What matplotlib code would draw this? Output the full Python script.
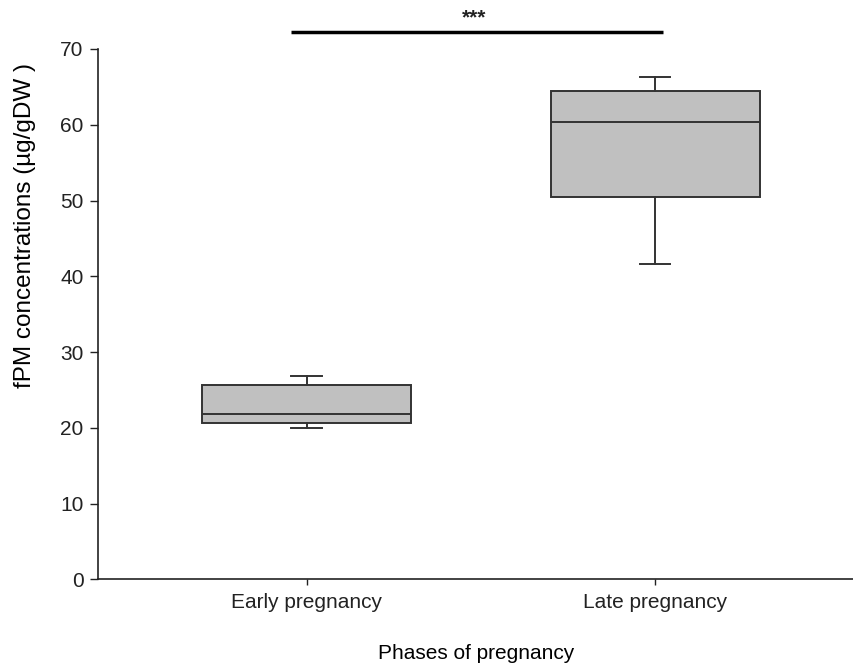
import matplotlib
matplotlib.use("Agg")
import matplotlib.pyplot as plt

categories = ["Early pregnancy", "Late pregnancy"]
whislo = [20.0, 41.6]
q1 = [20.7, 50.5]
med = [21.8, 60.4]
q3 = [25.7, 64.5]
whishi = [26.9, 66.3]
yticks = [0, 10, 20, 30, 40, 50, 60, 70]
sig_label = "***"
sig_y = 72.2

plt.rcParams['font.family'] = ['Liberation Sans', 'DejaVu Sans']

fig = plt.figure(figsize=(8.54, 6.63), dpi=100)
ax = fig.add_axes([0.1151, 0.1262, 0.8849, 0.7999])

stats = []
for i, c in enumerate(categories):
    stats.append(dict(label=c, whislo=whislo[i], q1=q1[i], med=med[i],
                      q3=q3[i], whishi=whishi[i], fliers=[]))

lc = '#333333'
ax.bxp(stats, positions=[1, 2], widths=0.6, patch_artist=True,
       showfliers=False, capwidths=0.087,
       boxprops=dict(facecolor='#c0c0c0', edgecolor=lc, linewidth=1.4),
       medianprops=dict(color=lc, linewidth=1.4),
       whiskerprops=dict(color=lc, linewidth=1.4),
       capprops=dict(color=lc, linewidth=1.4))

ax.set_xlim(0.402, 2.571)
ax.set_ylim(0, 70)
ax.set_yticks(yticks)
ax.set_xticks([1, 2])
ax.set_xticklabels(categories)
for s in ['top', 'right']:
    ax.spines[s].set_visible(False)
for s in ['left', 'bottom']:
    ax.spines[s].set_linewidth(1.2)
    ax.spines[s].set_color('#222222')
ax.tick_params(axis='y', direction='out', length=5.5, width=1.0, labelsize=15, pad=5, colors='#222222')
ax.tick_params(axis='x', direction='out', length=4, width=1.0, labelsize=15, pad=6, colors='#222222')

ax.set_ylabel("fPM concentrations (µg/gDW )", fontsize=17.5)
ax.yaxis.set_label_coords(-0.083, 0.668)
ax.set_xlabel("Phases of pregnancy", fontsize=15, labelpad=23)

ax.plot([0.954, 2.024], [sig_y, sig_y], color='black', linewidth=2.5, clip_on=False,
        solid_capstyle='butt')
ax.text(1.48, sig_y + 0.6, sig_label, ha='center', va='bottom', fontsize=15,
        fontweight='bold', color='#222222')

fig.savefig("out.png", dpi=100)
